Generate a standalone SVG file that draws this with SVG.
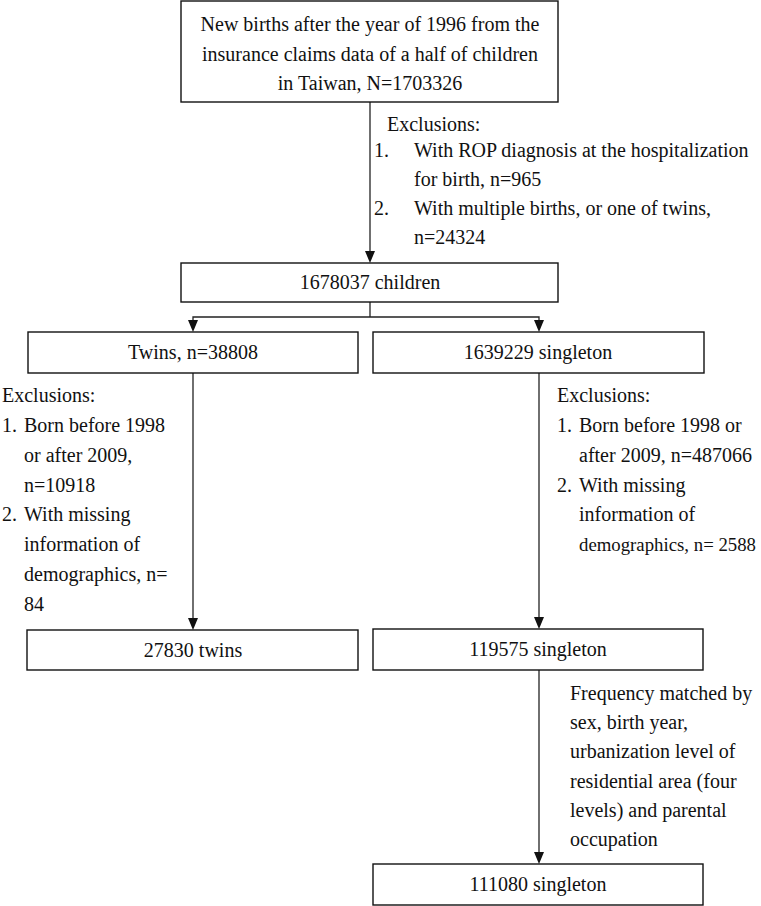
<svg xmlns="http://www.w3.org/2000/svg" width="761" height="906" viewBox="0 0 761 906">
<style>
.box{fill:#fff;stroke:#111;stroke-width:1.4}
.t{font-family:"Liberation Serif","Times New Roman",serif;font-size:20px;fill:#111}
.c{text-anchor:middle}
.ln{fill:none;stroke:#222;stroke-width:1.3}
.ah{fill:#111}
</style>
<rect width="761" height="906" fill="#fff"/>
<g id="connectors">
<line class="ln" x1="370" y1="102" x2="370" y2="252"/>
<path class="ah" d="M365,251 L375,251 L370,263 Z"/>
<polyline class="ln" points="370,302 370,317"/>
<polyline class="ln" points="193,321 193,317 539,317 539,321"/>
<path class="ah" d="M188,320 L198,320 L193,332 Z"/>
<path class="ah" d="M534,320 L544,320 L539,332 Z"/>
<line class="ln" x1="193" y1="373" x2="193" y2="620"/>
<path class="ah" d="M188,618 L198,618 L193,630 Z"/>
<line class="ln" x1="539" y1="373" x2="539" y2="619"/>
<path class="ah" d="M534,617 L544,617 L539,629 Z"/>
<line class="ln" x1="539" y1="670" x2="539" y2="854"/>
<path class="ah" d="M534,852 L544,852 L539,864 Z"/>
</g>
<g id="n-source">
<rect class="box" x="181" y="1" width="377" height="101"/>
<text class="t c" x="370" y="31">New births after the year of 1996 from the</text>
<text class="t c" x="370" y="61">insurance claims data of a half of children</text>
<text class="t c" x="370" y="90">in Taiwan, N=1703326</text>
</g>
<g id="ex-top">
<text class="t" x="387" y="131">Exclusions:</text>
<text class="t" x="374" y="157">1.</text>
<text class="t" x="414" y="157">With ROP diagnosis at the hospitalization</text>
<text class="t" x="414" y="186">for birth, n=965</text>
<text class="t" x="374" y="215">2.</text>
<text class="t" x="414" y="215">With multiple births, or one of twins,</text>
<text class="t" x="414" y="244">n=24324</text>
</g>
<g id="n-children">
<rect class="box" x="181" y="263" width="377" height="39"/>
<text class="t c" x="370" y="289">1678037 children</text>
</g>
<g id="n-twins">
<rect class="box" x="28" y="332" width="330" height="41"/>
<text class="t c" x="193" y="359">Twins, n=38808</text>
</g>
<g id="n-singleton">
<rect class="box" x="373" y="332" width="331" height="41"/>
<text class="t c" x="538" y="359">1639229 singleton</text>
</g>
<g id="ex-twins">
<text class="t" x="2" y="402">Exclusions:</text>
<text class="t" x="2" y="432">1.</text>
<text class="t" x="24" y="432">Born before 1998</text>
<text class="t" x="24" y="462">or after 2009,</text>
<text class="t" x="24" y="492">n=10918</text>
<text class="t" x="2" y="521">2.</text>
<text class="t" x="24" y="521">With missing</text>
<text class="t" x="24" y="551">information of</text>
<text class="t" x="24" y="581">demographics, n=</text>
<text class="t" x="24" y="611">84</text>
</g>
<g id="ex-singleton">
<text class="t" x="557" y="402">Exclusions:</text>
<text class="t" x="557" y="432">1.</text>
<text class="t" x="579" y="432">Born before 1998 or</text>
<text class="t" x="579" y="462">after 2009, n=487066</text>
<text class="t" x="557" y="492">2.</text>
<text class="t" x="579" y="492">With missing</text>
<text class="t" x="579" y="521">information of</text>
<text class="t" x="579" y="551" style="font-size:18.8px">demographics, n= 2588</text>
</g>
<g id="n-twins-final">
<rect class="box" x="27" y="630" width="331" height="40"/>
<text class="t c" x="193" y="657">27830 twins</text>
</g>
<g id="n-singleton-2">
<rect class="box" x="373" y="629" width="330" height="41"/>
<text class="t c" x="538" y="656">119575 singleton</text>
</g>
<g id="match-label">
<text class="t" x="570" y="700">Frequency matched by</text>
<text class="t" x="570" y="729">sex, birth year,</text>
<text class="t" x="570" y="758">urbanization level of</text>
<text class="t" x="570" y="788">residential area (four</text>
<text class="t" x="570" y="817">levels) and parental</text>
<text class="t" x="570" y="846">occupation</text>
</g>
<g id="n-singleton-final">
<rect class="box" x="373" y="864" width="330" height="41"/>
<text class="t c" x="538" y="891">111080 singleton</text>
</g>
</svg>
